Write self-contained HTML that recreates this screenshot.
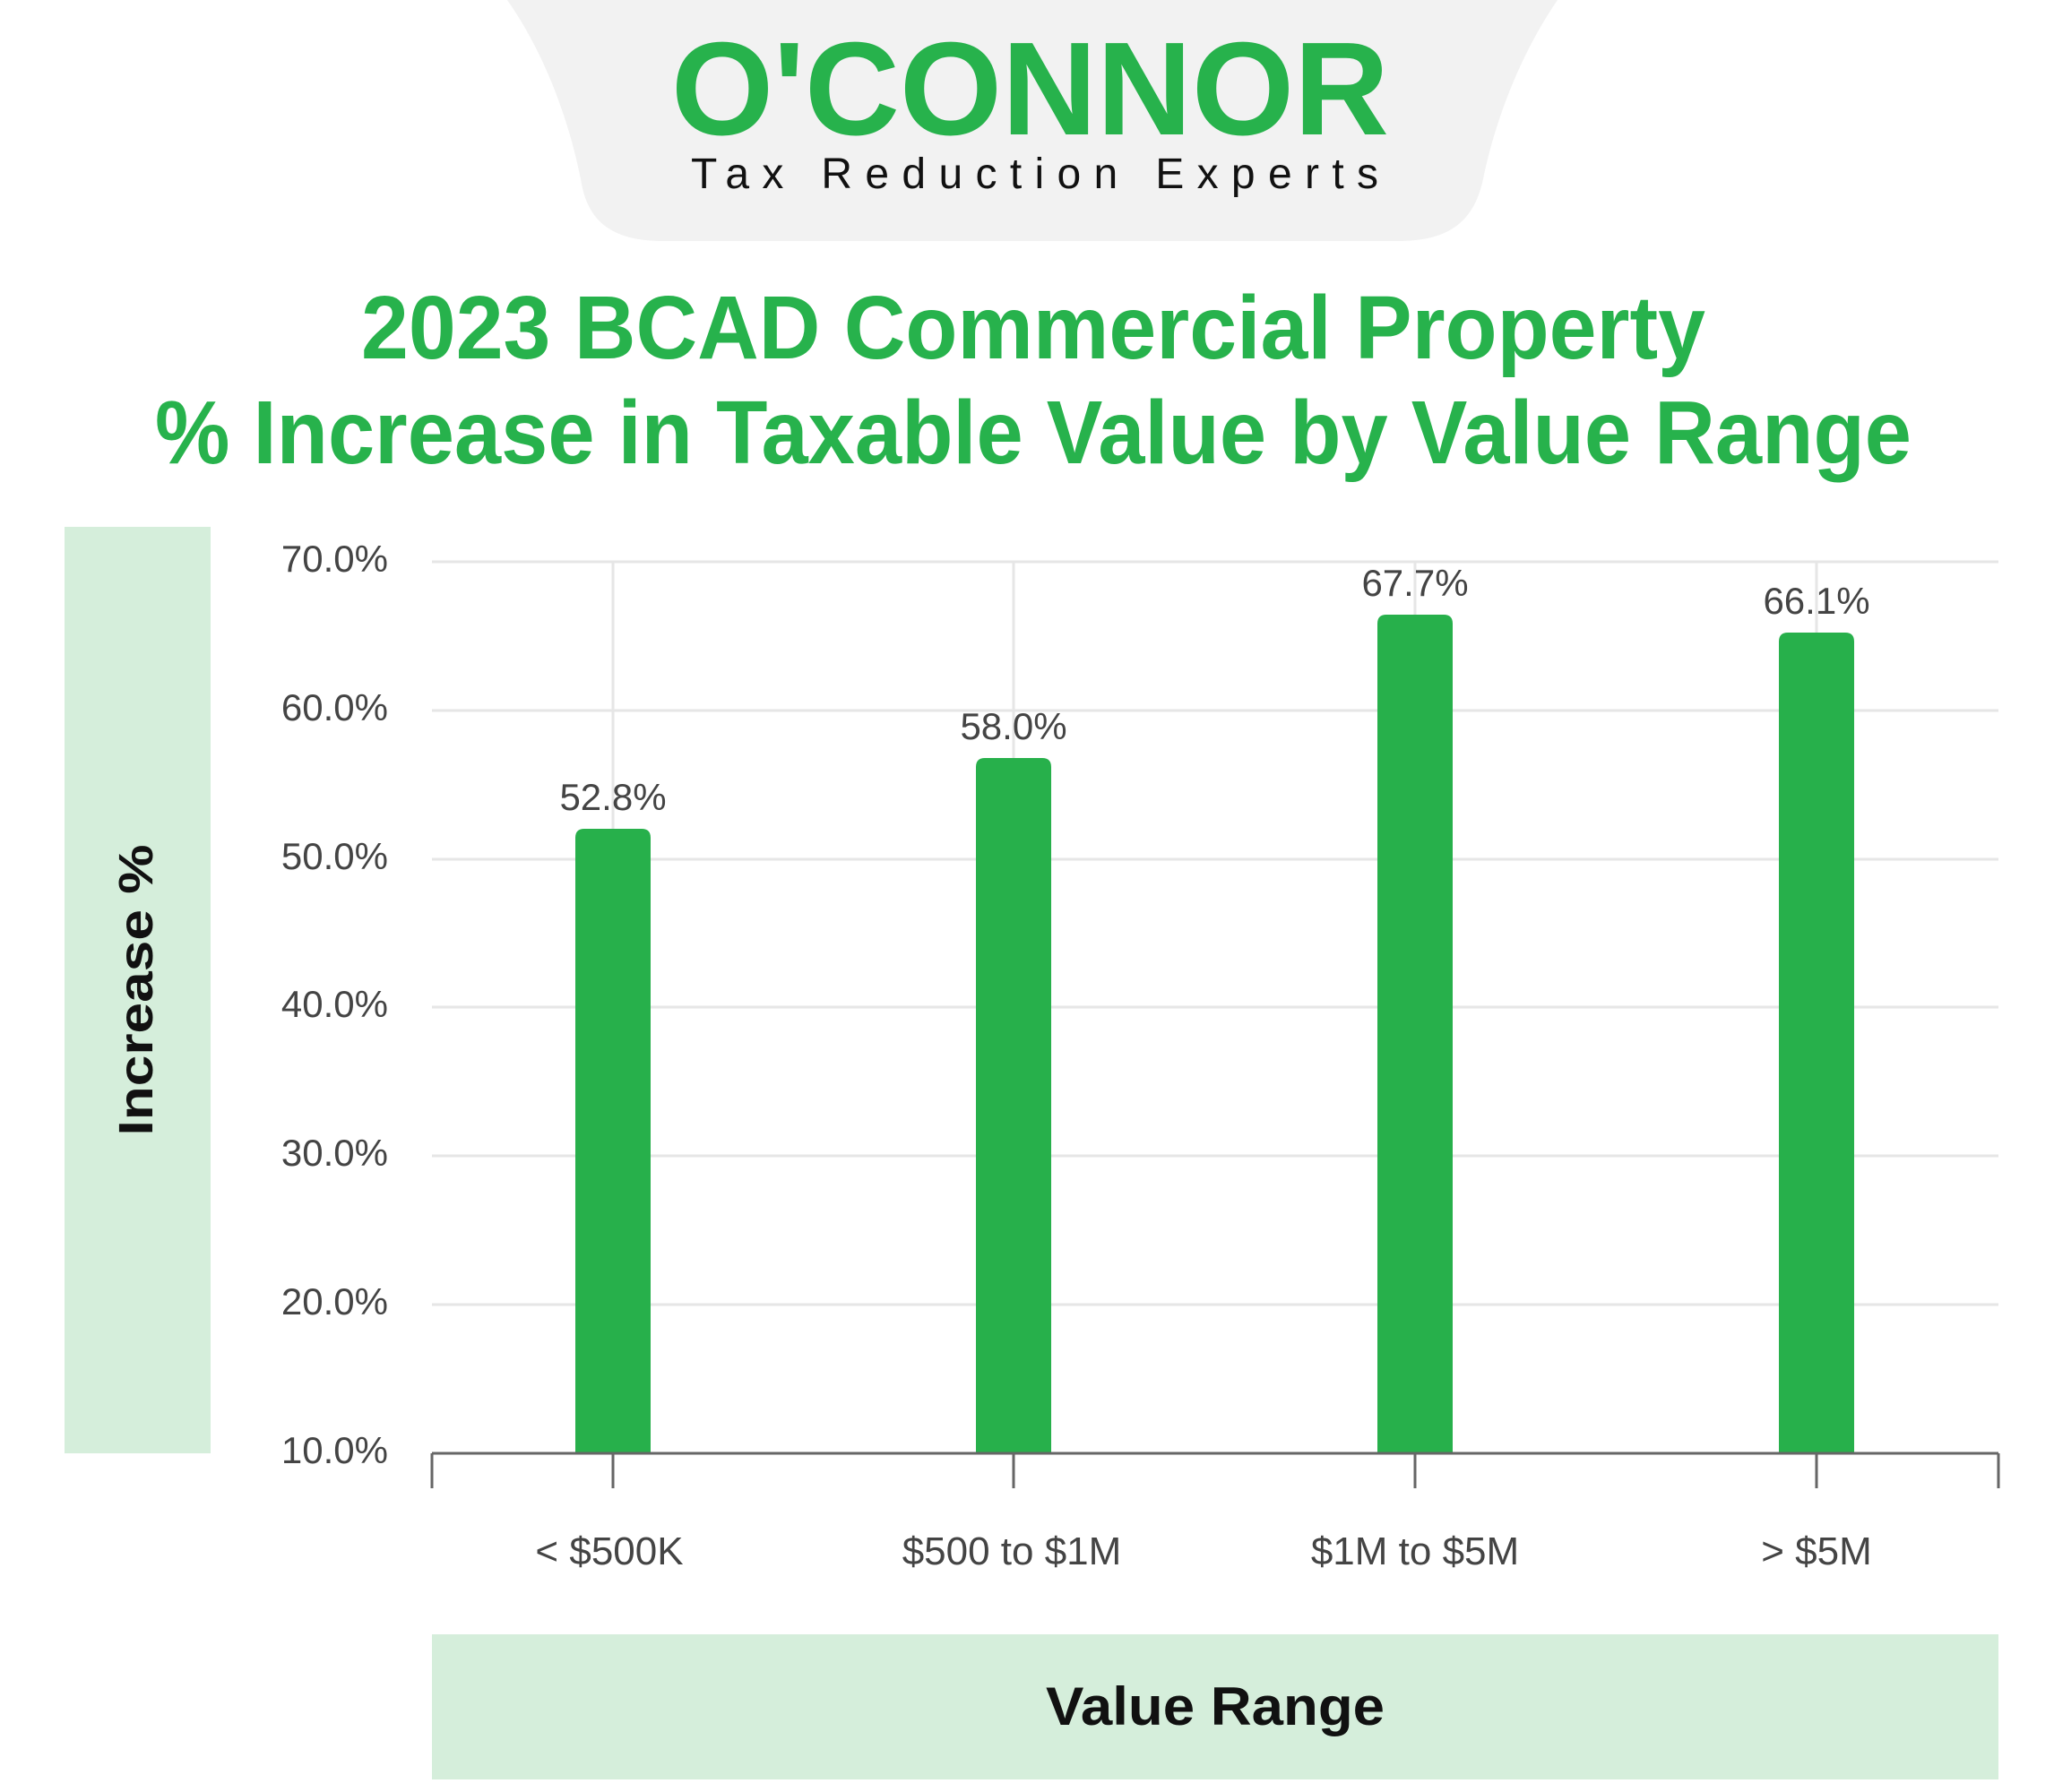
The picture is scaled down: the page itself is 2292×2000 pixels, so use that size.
<!DOCTYPE html>
<html><head><meta charset="utf-8"><style>
html,body{margin:0;padding:0;background:#fff;}
svg{display:block;}
text{font-family:"Liberation Sans",sans-serif;}
</style></head><body>
<svg width="2292" height="2000" viewBox="0 0 2292 2000" xmlns="http://www.w3.org/2000/svg">
<rect width="2292" height="2000" fill="#fff"/>
<path d="M566 0 L1738 0 C1690 70 1665 150 1655 200 C1645 245 1620 269 1560 269 L740 269 C680 269 655 245 648 200 C638 150 615 70 566 0 Z" fill="#f2f2f2"/>
<text x="749" y="150" font-size="148" font-weight="bold" fill="#27b24c" textLength="801" lengthAdjust="spacingAndGlyphs">O'CONNOR</text>
<text x="771" y="210" font-size="48" fill="#111" textLength="767" lengthAdjust="spacing">Tax Reduction Experts</text>
<text x="1153" y="400" font-size="100" font-weight="bold" fill="#27b24c" text-anchor="middle" textLength="1500" lengthAdjust="spacingAndGlyphs">2023 BCAD Commercial Property</text>
<text x="1153" y="517" font-size="100" font-weight="bold" fill="#27b24c" text-anchor="middle" textLength="1960" lengthAdjust="spacingAndGlyphs">% Increase in Taxable Value by Value Range</text>
<rect x="72" y="588" width="163" height="1034" fill="#d5eedb"/>
<text transform="translate(170,1105) rotate(-90)" font-size="54" font-weight="bold" fill="#111" text-anchor="middle" textLength="325" lengthAdjust="spacingAndGlyphs">Increase %</text>
<g stroke="#e6e6e6" stroke-width="3">
<line x1="482" y1="627" x2="2230" y2="627"/>
<line x1="482" y1="793" x2="2230" y2="793"/>
<line x1="482" y1="959" x2="2230" y2="959"/>
<line x1="482" y1="1124" x2="2230" y2="1124"/>
<line x1="482" y1="1290" x2="2230" y2="1290"/>
<line x1="482" y1="1456" x2="2230" y2="1456"/>
<line x1="684" y1="627" x2="684" y2="1622"/>
<line x1="1131" y1="627" x2="1131" y2="1622"/>
<line x1="1579" y1="627" x2="1579" y2="1622"/>
<line x1="2027" y1="627" x2="2027" y2="1622"/>
</g>
<g font-size="42" fill="#444" text-anchor="end">
<text x="433" y="638">70.0%</text>
<text x="433" y="804">60.0%</text>
<text x="433" y="970">50.0%</text>
<text x="433" y="1135">40.0%</text>
<text x="433" y="1301">30.0%</text>
<text x="433" y="1467">20.0%</text>
<text x="433" y="1633">10.0%</text>
</g>
<g fill="#27b04b">
<path d="M642 1622 V935 Q642 925 652 925 H716 Q726 925 726 935 V1622 Z"/>
<path d="M1089 1622 V856 Q1089 846 1099 846 H1163 Q1173 846 1173 856 V1622 Z"/>
<path d="M1537 1622 V696 Q1537 686 1547 686 H1611 Q1621 686 1621 696 V1622 Z"/>
<path d="M1985 1622 V716 Q1985 706 1995 706 H2059 Q2069 706 2069 716 V1622 Z"/>
</g>
<g font-size="42" fill="#444" text-anchor="middle">
<text x="684" y="904">52.8%</text>
<text x="1131" y="825">58.0%</text>
<text x="1579" y="665">67.7%</text>
<text x="2027" y="685">66.1%</text>
</g>
<g stroke="#666" stroke-width="3">
<line x1="482" y1="1622" x2="2230" y2="1622"/>
<line x1="482" y1="1622" x2="482" y2="1661"/>
<line x1="684" y1="1622" x2="684" y2="1661"/>
<line x1="1131" y1="1622" x2="1131" y2="1661"/>
<line x1="1579" y1="1622" x2="1579" y2="1661"/>
<line x1="2027" y1="1622" x2="2027" y2="1661"/>
<line x1="2230" y1="1622" x2="2230" y2="1661"/>
</g>
<g font-size="44" fill="#444" text-anchor="middle">
<text x="680" y="1746">&lt; $500K</text>
<text x="1129" y="1746">$500 to $1M</text>
<text x="1579" y="1746">$1M to $5M</text>
<text x="2027" y="1746">&gt; $5M</text>
</g>
<rect x="482" y="1824" width="1748" height="162" fill="#d5eedb"/>
<text x="1356" y="1925" font-size="60" font-weight="bold" fill="#111" text-anchor="middle" textLength="378" lengthAdjust="spacingAndGlyphs">Value Range</text>
</svg>
</body></html>
